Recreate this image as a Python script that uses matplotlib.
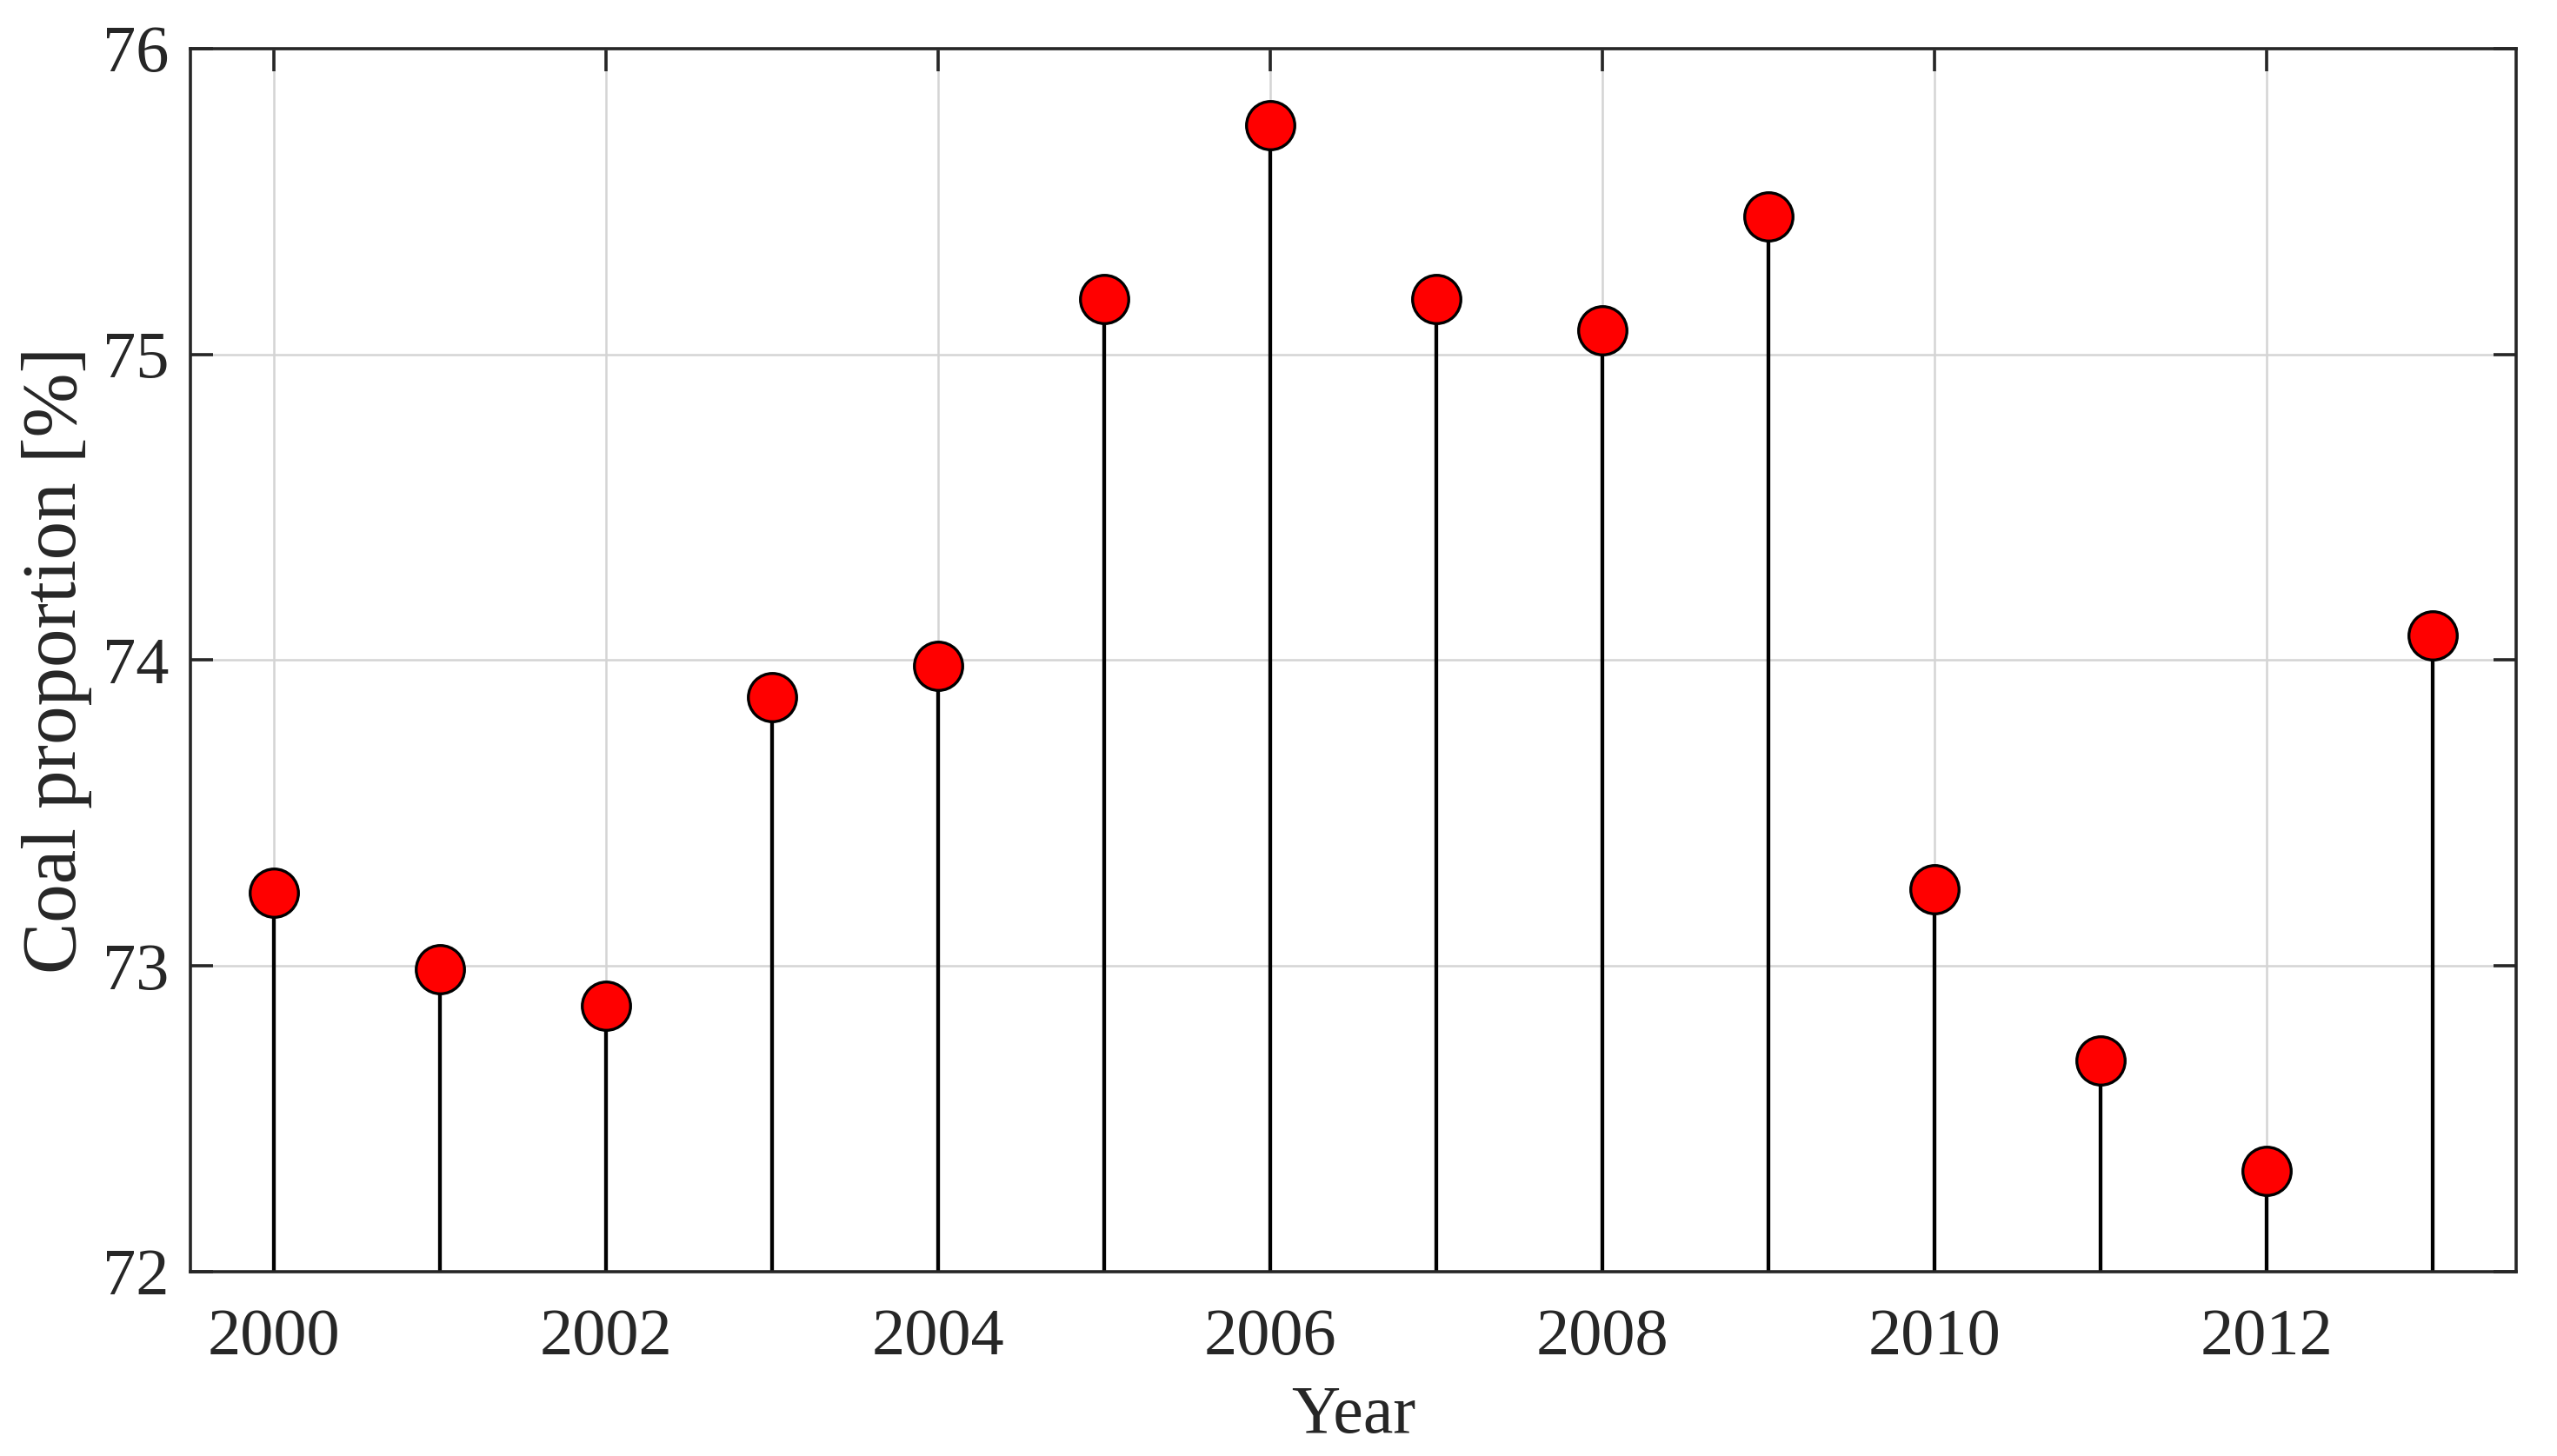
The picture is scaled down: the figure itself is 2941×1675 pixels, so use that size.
import matplotlib
matplotlib.use("Agg")
import matplotlib.pyplot as plt
import numpy as np

years = [2000, 2001, 2002, 2003, 2004, 2005, 2006, 2007, 2008, 2009, 2010, 2011, 2012, 2013]
coal_share = [73.24, 72.99, 72.87, 73.88, 73.98, 75.18, 75.75, 75.18, 75.08, 75.45, 73.25, 72.69, 72.33, 74.08]
x_ticks = [2000, 2002, 2004, 2006, 2008, 2010, 2012]
y_ticks = [72, 73, 74, 75, 76]

plt.rcParams['font.family'] = ['Liberation Serif', 'DejaVu Serif']
text_color = '#262626'

fig = plt.figure(figsize=(29.41, 16.75), dpi=100)
ax = fig.add_axes([0.0745, 0.1266, 0.9095, 0.8400])

ml, sl, bl = ax.stem(years, coal_share, bottom=72, basefmt=' ')
plt.setp(sl, color='black', linewidth=3.1)
plt.setp(ml, marker='o', markersize=40, markerfacecolor='#ff0000',
         markeredgecolor='black', markeredgewidth=2.4, zorder=3)

ax.set_xlim(1999.5, 2013.5)
ax.set_ylim(72, 76)
ax.set_xticks(x_ticks)
ax.set_yticks(y_ticks)
ax.grid(True, color='#d4d4d4', linewidth=1.8)
ax.set_axisbelow(True)

for s in ax.spines.values():
    s.set_linewidth(2.6)
    s.set_color('#262626')

ax.tick_params(axis='both', direction='in', length=19, width=2.6, color='#262626',
               top=True, right=True, labelsize=55, labelcolor=text_color)
ax.tick_params(axis='x', pad=30)
ax.tick_params(axis='y', pad=18)

ax.set_xlabel('Year', fontsize=56, color=text_color, labelpad=14)
ax.set_ylabel('Coal proportion [%]', fontsize=64, color=text_color, labelpad=8)

fig.savefig('out.png', dpi=100)
